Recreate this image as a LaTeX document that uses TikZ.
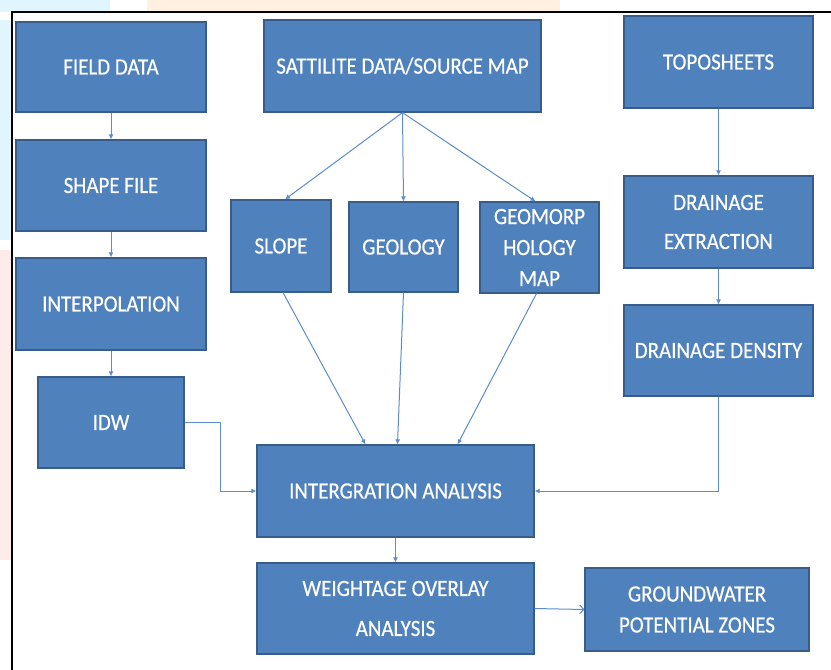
\documentclass[tikz,border=0pt]{standalone}
\usepackage{fontspec}
\setmainfont{Carlito}[FakeStretch=0.9,FakeBold=0.4]
\usepackage{xcolor}
\usetikzlibrary{positioning}
\usetikzlibrary{arrows.meta}
\usetikzlibrary{backgrounds}
\definecolor{boxfill}{HTML}{4F81BD}
\definecolor{boxline}{HTML}{385D8A}
\definecolor{flowline}{HTML}{5B8CCB}

\begin{document}
\begin{tikzpicture}[x=1pt,y=-1pt]
		% ------- style -------
		\tikzset{%
			stepbox/.style={%
				draw=boxline, fill=boxfill, line width=1.2pt,
				text=white, align=center, inner sep=0pt,
				font=\fontsize{23.3}{31}\selectfont,
			},
			flow/.style={draw=flowline, line width=1pt, -{Latex[length=5pt,width=5pt]}},
			openflow/.style={draw=flowline, line width=1pt, -{Straight Barb[length=4pt,width=9pt]}},
		}
		\useasboundingbox (0,0) rectangle (831,670);
		
		% ------- backdrop -------
		\begin{scope}[on background layer]
			\fill[cyan!12] (0,0) rectangle (110,12);
			\fill[orange!12] (147,0) rectangle (560,12);
			\fill[cyan!12] (0,20) rectangle (12,240);
			\fill[red!8] (0,250) rectangle (12,560);
			\draw[black, line width=2pt] (12,670) -- (12,12) -- (831,12);
		\end{scope}
		
		% ------- left column -------
		\node[stepbox, minimum width=190pt, minimum height=90pt] (field) at (111,67) {FIELD DATA};
		\node[stepbox, minimum width=190pt, minimum height=91pt] (shape) at (111,185.5) {SHAPE FILE};
		\node[stepbox, minimum width=190pt, minimum height=92pt] (interp) at (111,304) {INTERPOLATION};
		\node[stepbox, minimum width=146pt, minimum height=91pt] (idw) at (111,422.5) {IDW};
		
		% ------- middle column -------
		\node[stepbox, minimum width=277pt, minimum height=92pt] (sat) at (402.5,66) {SATTILITE DATA/SOURCE MAP};
		\node[stepbox, minimum width=100pt, minimum height=92pt] (slope) at (281,246) {SLOPE};
		\node[stepbox, minimum width=109pt, minimum height=90pt] (geology) at (403.5,247) {GEOLOGY};
		\node[stepbox, minimum width=119pt, minimum height=91pt] (geomorph) at (539.5,247.5) {GEOMORP\\HOLOGY\\MAP};
		\node[stepbox, minimum width=277pt, minimum height=92pt] (integ) at (395.5,491) {INTERGRATION ANALYSIS};
		\node[stepbox, minimum width=277pt, minimum height=91pt, font=\fontsize{23.3}{40}\selectfont] (weight) at (395.5,608.5) {WEIGHTAGE OVERLAY\\ANALYSIS};
		
		% ------- right column -------
		\node[stepbox, minimum width=189pt, minimum height=92pt] (topo) at (718.5,62) {TOPOSHEETS};
		\node[stepbox, minimum width=189pt, minimum height=92pt, font=\fontsize{23.3}{39}\selectfont] (extract) at (718.5,222) {DRAINAGE\\EXTRACTION};
		\node[stepbox, minimum width=189pt, minimum height=91pt] (density) at (718.5,350.5) {DRAINAGE DENSITY};
		\node[stepbox, minimum width=224pt, minimum height=83pt] (ground) at (697,609.5) {GROUNDWATER\\POTENTIAL ZONES};
		
		% ------- connectors -------
		\draw[flow] (field) -- (shape);
		\draw[flow] (shape) -- (interp);
		\draw[flow] (interp) -- (idw);
		\draw[flow] (idw.east) -- ++(36,0) |- (integ.west);
		
		\draw[flow] (sat.south) -- ([xshift=4pt]slope.north);
		\draw[flow] (sat.south) -- (geology.north);
		\draw[flow] (sat.south) -- ([xshift=-4pt]geomorph.north);
		
		\draw[flow] ([xshift=2pt]slope.south) -- ([xshift=-30pt]integ.north);
		\draw[flow] (geology.south) -- ([xshift=2pt]integ.north);
		\draw[flow] ([xshift=-3pt]geomorph.south) -- ([xshift=62pt]integ.north);
		
		\draw[flow] (topo) -- (extract);
		\draw[flow] (extract) -- (density);
		\draw[flow] (density.south) |- (integ.east);
		
		\draw[flow] (integ) -- (weight);
		\draw[openflow] (weight.east) -- (ground.west);
	\end{tikzpicture}
\end{document}
